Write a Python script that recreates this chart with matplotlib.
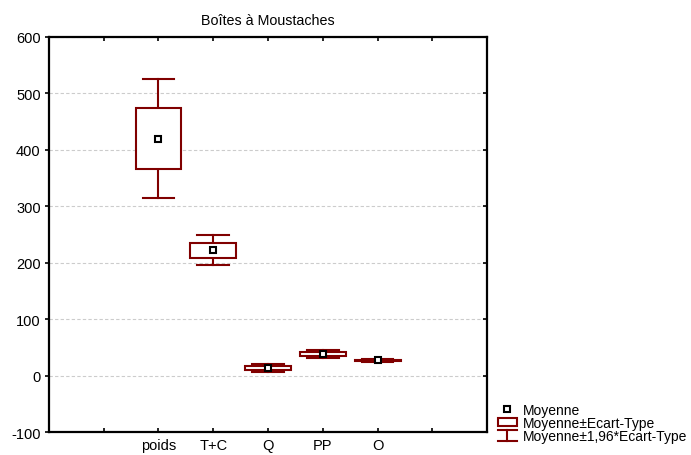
import numpy as np
import matplotlib
matplotlib.use("Agg")
import matplotlib.pyplot as plt
from matplotlib.lines import Line2D
from matplotlib.patches import Rectangle
from matplotlib.legend_handler import HandlerBase

plt.rcParams['font.family'] = ['Liberation Sans', 'DejaVu Sans']
plt.rcParams['axes.unicode_minus'] = False

variables = ["poids", "T+C", "Q", "PP", "O"]
moyennes = [420, 222, 13, 38, 27]
ecarts = [53.5, 13.5, 3.5, 3.5, 1.5]

rouge = "#800000"


class HandlerMoustache(HandlerBase):
    def create_artists(self, legend, orig_handle, xdescent, ydescent,
                       width, height, fontsize, trans):
        x0, x1 = -xdescent, -xdescent + width
        xm = (x0 + x1) / 2
        y0, y1 = -ydescent - 1, -ydescent + height + 1
        kw = dict(color=rouge, lw=1.5, transform=trans)
        return [Line2D([x0, x1], [y0, y0], **kw),
                Line2D([x0, x1], [y1, y1], **kw),
                Line2D([xm, xm], [y0, y1], **kw)]


def grafico():
    fig = plt.figure(figsize=(6.91, 4.56), dpi=100)
    ax = fig.add_axes([0.0709, 0.0504, 0.6339, 0.8663])

    pos = np.arange(1, len(variables) + 1)
    larg_boite = 0.42
    larg_cap = 0.29
    for x, m, s in zip(pos, moyennes, ecarts):
        bas, haut = m - 1.96 * s, m + 1.96 * s
        ax.plot([x, x], [bas, m - s], color=rouge, lw=1.5, zorder=2)
        ax.plot([x, x], [m + s, haut], color=rouge, lw=1.5, zorder=2)
        ax.plot([x - larg_cap, x + larg_cap], [bas, bas], color=rouge, lw=1.5, zorder=2)
        ax.plot([x - larg_cap, x + larg_cap], [haut, haut], color=rouge, lw=1.5, zorder=2)
        ax.add_patch(Rectangle((x - larg_boite, m - s), 2 * larg_boite, 2 * s,
                               facecolor="white", edgecolor=rouge, lw=1.5, zorder=3))
    ax.plot(pos, moyennes, ls="none", marker="s", ms=5, mfc="white",
            mec="black", mew=1.5, zorder=4)

    ax.set_xlim(-1, 7)
    ax.set_ylim(-100, 600)
    ax.set_xticks(range(0, 7))
    ax.set_xticklabels([""] + variables + [""])
    ax.set_yticks(range(-100, 601, 100))
    ax.yaxis.grid(True, color="#cccccc", ls=(0, (3, 2)), lw=0.8)
    ax.set_axisbelow(True)
    ax.tick_params(axis="x", direction="in", top=True, length=3, width=1.2,
                   labelsize=10.5, pad=4)
    ax.tick_params(axis="y", direction="out", length=3, width=1.2,
                   labelsize=10.5, pad=3)
    ax.tick_params(axis="y", which="major", right=True)
    for lab in ax.yaxis.get_ticklines()[1::2]:
        lab.set_marker(0)  # ticks de droite vers l'interieur
    for sp in ax.spines.values():
        sp.set_linewidth(1.6)
    ax.set_title("Boîtes à Moustaches", fontsize=10.3, pad=9)

    h_moy = Line2D([], [], ls="none", marker="s", ms=5, mfc="white",
                   mec="black", mew=1.5)
    h_boite = Rectangle((0, 0), 1, 1, facecolor="white", edgecolor=rouge, lw=1.5)
    h_moust = object()
    fig.legend([h_moy, h_boite, h_moust],
               ["Moyenne", "Moyenne±Ecart-Type", "Moyenne±1,96*Ecart-Type"],
               handler_map={h_moust: HandlerMoustache()},
               loc="upper left", bbox_to_anchor=(0.71, 0.13),
               frameon=False, fontsize=10, handlelength=1.4, handleheight=0.6,
               handletextpad=0.4, labelspacing=-0.05, borderpad=0)

    fig.savefig("out.png", dpi=100)


if __name__ == "__main__":
    grafico()
